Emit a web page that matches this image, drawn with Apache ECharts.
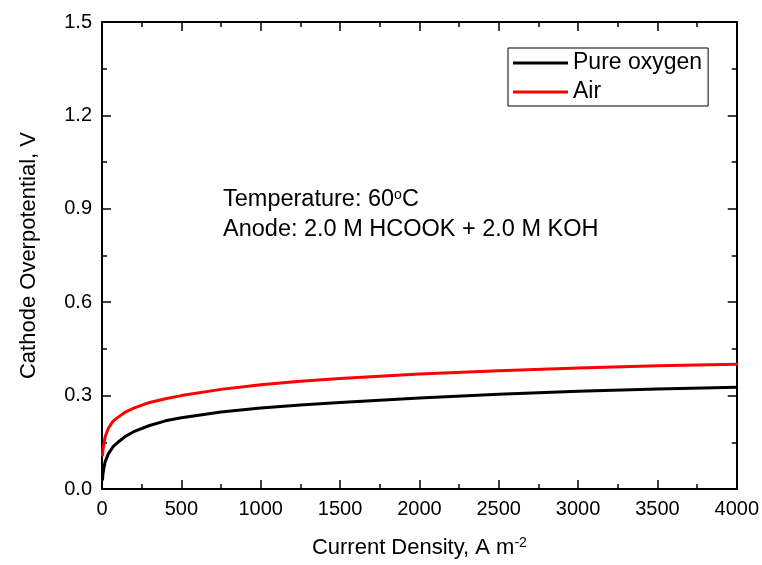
<!DOCTYPE html>
<html>
<head>
<meta charset="utf-8">
<script src="https://cdn.jsdelivr.net/npm/echarts@6/dist/echarts.min.js"></script>
<style>
  html, body { margin: 0; padding: 0; background: #fff; }
  #chart { width: 762px; height: 565px; }
</style>
</head>
<body>
<div id="chart"></div>
<script>
// Cathode overpotential vs. current density (A m^-2)
const currentDensity = [3, 6, 10, 20, 40, 70, 100, 150, 200, 300, 400, 500, 750, 1000, 1250, 1500, 2000, 2500, 3000, 3500, 4000];
const pureOxygen     = [0.030, 0.048, 0.062, 0.088, 0.113, 0.136, 0.150, 0.170, 0.184, 0.204, 0.219, 0.229, 0.247, 0.260, 0.270, 0.278, 0.292, 0.304, 0.314, 0.321, 0.327];
const air            = [0.108, 0.125, 0.140, 0.168, 0.195, 0.218, 0.230, 0.248, 0.260, 0.278, 0.290, 0.300, 0.320, 0.335, 0.346, 0.355, 0.369, 0.380, 0.389, 0.396, 0.401];
const seriesNames    = ['Pure oxygen', 'Air'];
const seriesColors   = ['#000000', '#ff0000'];
const yTicks         = [0, 0.3, 0.6, 0.9, 1.2, 1.5];
const xTicks         = [0, 500, 1000, 1500, 2000, 2500, 3000, 3500, 4000];
const noteLines      = ['Temperature: 60{sup|o}C', 'Anode: 2.0 M HCOOK + 2.0 M KOH'];

const FONT = "'Liberation Sans', Arial, Helvetica, sans-serif";
const supStyle = { fontSize: 14, verticalAlign: 'top', padding: [0, 0, 10, 0], fontFamily: FONT, color: '#000' };

const pairs = (ys) => currentDensity.map((x, i) => [x, ys[i]]);

const commonTick = { show: true, inside: true, length: 9, lineStyle: { color: '#000', width: 1.5 } };
const commonMinor = { show: true, splitNumber: 2, length: 5, lineStyle: { color: '#000', width: 1.5 } };
const commonLine = { show: true, onZero: false, lineStyle: { color: '#000', width: 2 } };

const chart = echarts.init(document.getElementById('chart'), null, { renderer: 'canvas' });
chart.setOption({
  animation: false,
  backgroundColor: '#fff',
  grid: { left: 102, right: 25, top: 22, bottom: 76, show: false },
  legend: {
    orient: 'vertical',
    left: 508, top: 48,
    padding: [2, 6, 1, 5],
    itemGap: 3,
    itemWidth: 55, itemHeight: 3,
    icon: 'rect',
    borderColor: '#000', borderWidth: 1,
    textStyle: { fontSize: 23, fontFamily: FONT, color: '#000', lineHeight: 26 },
    data: seriesNames
  },
  xAxis: [{
    type: 'value', min: xTicks[0], max: xTicks[xTicks.length - 1], interval: 500,
    position: 'bottom',
    name: 'Current Density, A m{sup|-2}', nameLocation: 'middle', nameGap: 47,
    nameTextStyle: { fontSize: 22, fontFamily: FONT, color: '#000', rich: { sup: supStyle } },
    axisLine: commonLine, axisTick: commonTick, minorTick: commonMinor,
    splitLine: { show: false },
    axisLabel: { fontSize: 20, fontFamily: FONT, color: '#000', margin: 10, formatter: (v) => String(v) }
  }, {
    type: 'value', min: xTicks[0], max: xTicks[xTicks.length - 1], interval: 500,
    position: 'top',
    axisLine: commonLine, axisTick: commonTick, minorTick: commonMinor,
    splitLine: { show: false }, axisLabel: { show: false }
  }],
  yAxis: [{
    type: 'value', min: yTicks[0], max: yTicks[yTicks.length - 1], interval: 0.3,
    position: 'left',
    name: 'Cathode Overpotential, V', nameLocation: 'middle', nameGap: 62, nameRotate: 90,
    nameTextStyle: { fontSize: 22, fontFamily: FONT, color: '#000' },
    axisLine: commonLine, axisTick: commonTick, minorTick: commonMinor,
    splitLine: { show: false },
    axisLabel: { fontSize: 20, fontFamily: FONT, color: '#000', margin: 10, formatter: (v) => v.toFixed(1) }
  }, {
    type: 'value', min: yTicks[0], max: yTicks[yTicks.length - 1], interval: 0.3,
    position: 'right',
    axisLine: commonLine, axisTick: commonTick, minorTick: commonMinor,
    splitLine: { show: false }, axisLabel: { show: false }
  }],
  graphic: noteLines.map((t, i) => ({
    type: 'text', left: 223, top: 188 + i * 30,
    style: { text: t, fontSize: 23.5, fontFamily: FONT, fill: '#000', rich: { sup: supStyle } }
  })),
  series: [
    { name: seriesNames[0], type: 'line', data: pairs(pureOxygen), smooth: false, showSymbol: false,
      lineStyle: { color: seriesColors[0], width: 3, join: 'round', cap: 'round' }, itemStyle: { color: seriesColors[0] } },
    { name: seriesNames[1], type: 'line', data: pairs(air), smooth: false, showSymbol: false,
      lineStyle: { color: seriesColors[1], width: 3, join: 'round', cap: 'round' }, itemStyle: { color: seriesColors[1] } }
  ]
});
</script>
</body>
</html>
